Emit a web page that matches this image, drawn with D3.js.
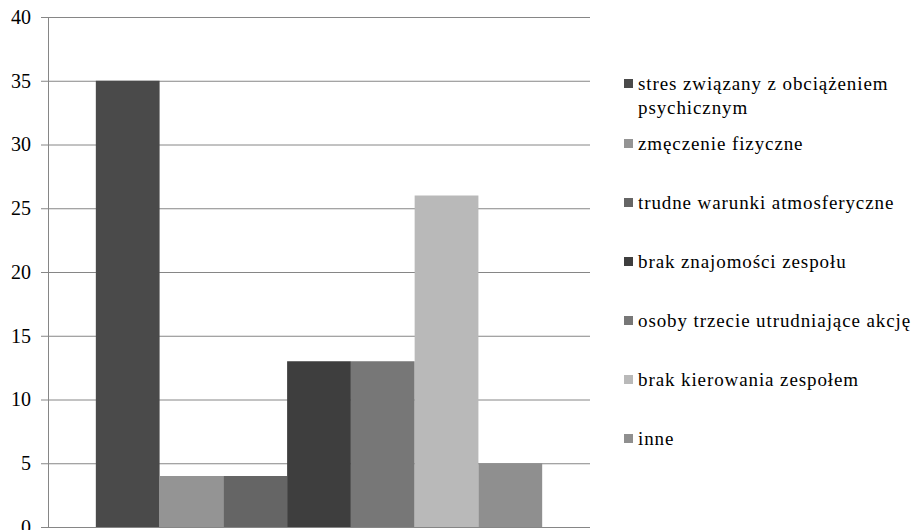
<!DOCTYPE html>
<html>
<head>
<meta charset="utf-8">
<script src="https://cdn.jsdelivr.net/npm/d3@7"></script>
<style>
  html, body { margin: 0; padding: 0; background: #fff; }
  svg { display: block; }
</style>
</head>
<body>
<svg id="chart" width="913" height="530"></svg>
<script>
// Series shown as one group of bars (single category)
const seriesNames = [
  "stres związany z obciążeniem psychicznym",
  "zmęczenie fizyczne",
  "trudne warunki atmosferyczne",
  "brak znajomości zespołu",
  "osoby trzecie utrudniające akcję",
  "brak kierowania zespołem",
  "inne"
];
const seriesValues = [35, 4, 4, 13, 13, 26, 5];
const seriesColors = ["#4a4a4a", "#949494", "#656565", "#3e3e3e", "#777777", "#b9b9b9", "#8f8f8f"];
// Legend lines (first entry wraps over two lines)
const legendLines = [
  ["stres związany z obciążeniem", "psychicznym"],
  ["zmęczenie fizyczne"],
  ["trudne warunki atmosferyczne"],
  ["brak znajomości zespołu"],
  ["osoby trzecie utrudniające akcję"],
  ["brak kierowania zespołem"],
  ["inne"]
];
const yTicks = [0, 5, 10, 15, 20, 25, 30, 35, 40];

const serif = "Liberation Serif";
const svg = d3.select("#chart").attr("font-family", serif);
const plot = { left: 48, right: 590, top: 17, bottom: 527 };

const y = d3.scaleLinear().domain([0, 40]).range([plot.bottom, plot.top]);

// One category band; outer gap on each side equals 0.75 of a bar width
const x0 = d3.scaleBand().domain(["all"]).range([plot.left, plot.right])
  .paddingInner(0).paddingOuter(0.75 / seriesNames.length);
const x1 = d3.scaleBand().domain(seriesNames).range([0, x0.bandwidth()]).padding(0);

// Gridlines and y axis
const yAxis = d3.axisLeft(y).tickValues(yTicks).tickSize(7).tickPadding(10);
const gAxis = svg.append("g")
  .attr("transform", `translate(${plot.left},0)`)
  .call(yAxis)
  .attr("font-family", serif);
gAxis.select(".domain").attr("stroke", "#868686").attr("d", `M0.5,${plot.top}V${plot.bottom}`);
gAxis.selectAll(".tick line").attr("stroke", "#868686").attr("x2", -7).attr("x1", plot.right - plot.left);
gAxis.selectAll(".tick text")
  .attr("font-size", 20).attr("fill", "#000").attr("x", -17);

// Bars
svg.append("g")
  .selectAll("rect")
  .data(seriesValues)
  .join("rect")
  .attr("x", (d, i) => x0("all") + x1(seriesNames[i]))
  .attr("y", d => y(d))
  .attr("width", x1.bandwidth())
  .attr("height", d => y(0) - y(d))
  .attr("fill", (d, i) => seriesColors[i]);

// Baseline axis drawn over bars
svg.append("line")
  .attr("x1", plot.left - 7).attr("x2", plot.right)
  .attr("y1", plot.bottom + 0.5).attr("y2", plot.bottom + 0.5)
  .attr("stroke", "#868686");

// Legend
const legend = svg.append("g").attr("class", "legend").attr("font-family", serif);
const legendX = 624, textX = 638, lineH = 24, firstBase = 90, restBase = 150, itemStep = 59;
legendLines.forEach((lines, i) => {
  const base = i === 0 ? firstBase : restBase + itemStep * (i - 1);
  legend.append("rect")
    .attr("x", legendX).attr("y", base - 11)
    .attr("width", 9).attr("height", 9)
    .attr("fill", seriesColors[i]);
  lines.forEach((t, j) => {
    legend.append("text")
      .attr("x", textX).attr("y", base + j * lineH)
      .attr("font-size", 19)
      .attr("letter-spacing", 0.9)
      .attr("fill", "#000")
      .text(t);
  });
});
</script>
</body>
</html>
